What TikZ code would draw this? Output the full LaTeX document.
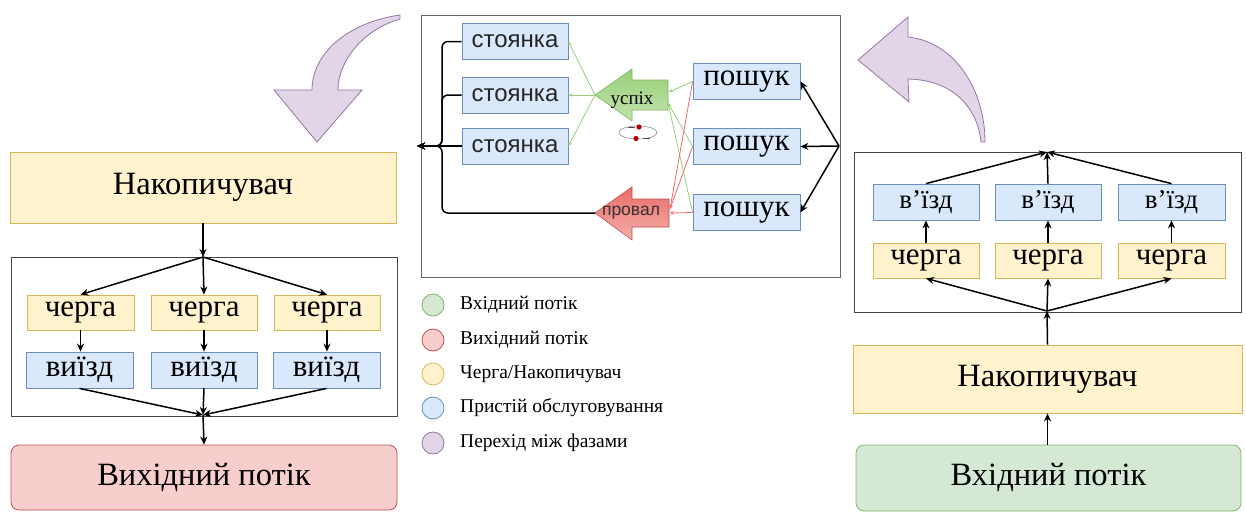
\documentclass[tikz,border=0pt]{standalone}
\usepackage{fontspec}
\setmainfont{Liberation Serif}
\newfontfamily\arialfont{Liberation Sans}
\usetikzlibrary{arrows.meta}

\definecolor{blueF}{HTML}{DAE8FC}\definecolor{blueD}{HTML}{6C8EBF}
\definecolor{yelF}{HTML}{FFF2CC}\definecolor{yelD}{HTML}{D6B656}
\definecolor{grnF}{HTML}{D5E8D4}\definecolor{grnD}{HTML}{82B366}
\definecolor{redF}{HTML}{F8CECC}\definecolor{redD}{HTML}{B85450}
\definecolor{purF}{HTML}{E1D5E7}\definecolor{purD}{HTML}{9673A6}
\definecolor{grnA}{HTML}{97D077}\definecolor{grnB}{HTML}{C3E3B0}
\definecolor{redA}{HTML}{EA6B66}\definecolor{redB}{HTML}{F5B0AD}
\definecolor{frameC}{HTML}{444444}

\newcommand{\bigtxt}{\fontsize{32.5}{35}\selectfont}
\newcommand{\cellfont}{\fontsize{31}{33}\selectfont}
\newcommand{\smallcell}{\fontsize{27}{30}\selectfont}
\newcommand{\parkfont}{\arialfont\fontsize{24}{26}\selectfont}
\newcommand{\legfont}{\fontsize{19.5}{21}\selectfont}

\begin{document}
\begin{tikzpicture}[x=1pt,y=-1pt,
  box/.style={draw, line width=0.8pt, inner sep=0pt, anchor=center},
  qbox/.style={box, fill=yelF, draw=yelD},
  sbox/.style={box, fill=blueF, draw=blueD},
  group/.style={draw=frameC, line width=1pt, inner sep=0pt},
  flow/.style={-{Stealth[length=8pt,width=7pt]}, line width=1.5pt},
  gline/.style={-{Stealth[length=4pt,width=3.5pt]}, draw=grnA, line width=0.8pt},
  rline/.style={-{Stealth[length=4pt,width=3.5pt]}, draw=redA, line width=0.8pt},
  purp/.style={fill=purF, draw=purD, line width=0.8pt},
  legdot/.style={circle, minimum size=22pt, inner sep=0pt, line width=0.8pt},
  legtxt/.style={anchor=west, font=\legfont, inner sep=0pt}]
\useasboundingbox (0,0) rectangle (1246,512);

% ---------- output phase (left) ----------
\draw[purp] (400,15) .. controls (350,22) and (312,52) .. (312,90)
  -- (274,90) -- (317,142) -- (362,90) -- (338,90)
  .. controls (338,62) and (362,30) .. (400,19) -- cycle;

\node[qbox, minimum width=386pt, minimum height=71pt, font=\bigtxt] (nakL) at (203,187.5) {Накопичувач};
\node[group, minimum width=386pt, minimum height=159pt] (grpL) at (204,336.5) {};
\coordinate (splitL) at (203,257);
\coordinate (mergeL) at (203,415);
\node[qbox, minimum width=107pt, minimum height=35pt, font=\cellfont] (chL1) at (80.5,312.5) {черга};
\node[qbox, minimum width=106pt, minimum height=35pt, font=\cellfont] (chL2) at (204,312.5) {черга};
\node[qbox, minimum width=106pt, minimum height=35pt, font=\cellfont] (chL3) at (327,312.5) {черга};
\node[sbox, minimum width=107pt, minimum height=36pt, font=\cellfont] (vyL1) at (79.5,370) {виїзд};
\node[sbox, minimum width=106pt, minimum height=36pt, font=\cellfont] (vyL2) at (204,370) {виїзд};
\node[sbox, minimum width=107pt, minimum height=36pt, font=\cellfont] (vyL3) at (326.5,370) {виїзд};
\node[box, rounded corners=8pt, fill=redF, draw=redD, minimum width=386pt, minimum height=65pt, font=\bigtxt] (outL) at (204,477.5) {Вихідний потік};

\draw[flow] (nakL.south) -- (splitL);
\foreach \i in {1,2,3} {
  \draw[flow] (splitL) -- (chL\i.north);
  \draw[flow] (chL\i.south) -- (chL\i.south |- vyL\i.north);
  \draw[flow] (vyL\i.south) -- (mergeL);
}
\draw[flow] (mergeL) -- (outL.north);

% ---------- parking phase (middle) ----------
\node[group, draw=black!60, minimum width=419pt, minimum height=262pt] (grpM) at (630.5,146) {};
\node[sbox, minimum width=106pt, minimum height=36pt, font=\parkfont, text=black!85] (st1) at (515,41.5) {стоянка};
\node[sbox, minimum width=106pt, minimum height=36pt, font=\parkfont, text=black!85] (st2) at (515,95) {стоянка};
\node[sbox, minimum width=106pt, minimum height=36pt, font=\parkfont, text=black!85] (st3) at (515,146) {стоянка};
\node[sbox, minimum width=107pt, minimum height=36pt, font=\cellfont] (p1) at (746.5,81.5) {пошук};
\node[sbox, minimum width=107pt, minimum height=36pt, font=\cellfont] (p2) at (746.5,146.5) {пошук};
\node[sbox, minimum width=107pt, minimum height=36pt, font=\cellfont] (p3) at (746.5,212.5) {пошук};

% success / failure block arrows
\draw[draw=grnD, line width=0.6pt, top color=grnA, bottom color=grnB]
  (595,95) -- (632,69) -- (632,80) -- (668,80) -- (668,110) -- (632,110) -- (632,121) -- cycle;
\node[font=\fontsize{19}{21}\selectfont, inner sep=0pt] (succ) at (632,100) {успіх};
\draw[draw=redD, line width=0.6pt, top color=redA, bottom color=redB]
  (595,213) -- (632,187) -- (632,199) -- (669,199) -- (669,227) -- (632,227) -- (632,240) -- cycle;
\node[font=\arialfont\fontsize{17.5}{19}\selectfont, text=black!80, inner sep=0pt] (fail) at (631,213) {провал};

\coordinate (succtip) at (595,95);
\coordinate (succin) at (669,92);
\coordinate (succin2) at (668,103);
\coordinate (failtip) at (595,213);
\coordinate (failin) at (670,209);
\coordinate (failtail) at (670,213);

% transition marker
\draw[black!45, line width=0.6pt] (638,132.5) ellipse [x radius=19, y radius=6.5];
\fill[red!70!black] (639,127) circle (2.6) (636,138.5) circle (2.6);
\draw[black!70, line width=0.6pt] (628,127) -- (635,127) (643,138.5) -- (650,138.5);

\foreach \s in {st1,st2,st3} \draw[gline] (succtip) -- (\s.east);
\draw[gline] (p1.west) -- (succin);
\draw[gline] (p2.west) -- (succin2);
\draw[gline] (p3.west) -- (succin2);
\draw[rline] (p1.west) -- (failin);
\draw[rline] (p2.west) -- (failin);
\draw[rline] (p3.west) -- (failtail);

\coordinate (busx) at (442,146);
\coordinate (park) at (417,146);
\coordinate (hub) at (839,146);
\draw[flow, rounded corners=6pt] (st1.west) -| (busx) -- (park);
\draw[flow, rounded corners=6pt] (st2.west) -| (busx) -- (park);
\draw[flow] (st3.west) -- (park);
\draw[flow, rounded corners=6pt] (failtip) -| (busx) -- (park);
\foreach \p in {p1,p2,p3} \draw[flow] (hub) -- (\p.east);

% legend
\node[legdot, fill=grnF, draw=grnD] (lg1) at (433,305) {};
\node[legdot, fill=redF, draw=redD] (lg2) at (433,340) {};
\node[legdot, fill=yelF, draw=yelD] (lg3) at (433,374) {};
\node[legdot, fill=blueF, draw=blueD] (lg4) at (433,408) {};
\node[legdot, fill=purF, draw=purD] (lg5) at (433,443) {};
\node[legtxt] (lt1) at (460,305) {Вхідний потік};
\node[legtxt] (lt2) at (460,340) {Вихідний потік};
\node[legtxt] (lt3) at (460,374) {Черга/Накопичувач};
\node[legtxt] (lt4) at (460,408) {Пристій обслуговування};
\node[legtxt] (lt5) at (460,443) {Перехід між фазами};

% ---------- input phase (right) ----------
\draw[purp] (858,60) -- (908,17) -- (908,37)
  .. controls (955,42) and (985,90) .. (985,142) -- (981,142)
  .. controls (978,110) and (955,80) .. (908,79) -- (909,102) -- cycle;

\node[group, minimum width=387pt, minimum height=160pt] (grpR) at (1047.5,232) {};
\coordinate (mergeR) at (1047,152);
\coordinate (splitR) at (1047,311);
\node[sbox, minimum width=106pt, minimum height=36pt, font=\smallcell] (vzR1) at (926,202) {в'їзд};
\node[sbox, minimum width=106pt, minimum height=36pt, font=\smallcell] (vzR2) at (1048,202) {в'їзд};
\node[sbox, minimum width=107pt, minimum height=36pt, font=\smallcell] (vzR3) at (1171.5,202) {в'їзд};
\node[qbox, minimum width=106pt, minimum height=35pt, font=\cellfont] (chR1) at (926,260.5) {черга};
\node[qbox, minimum width=106pt, minimum height=35pt, font=\cellfont] (chR2) at (1048,260.5) {черга};
\node[qbox, minimum width=107pt, minimum height=35pt, font=\cellfont] (chR3) at (1171.5,260.5) {черга};
\node[qbox, minimum width=389pt, minimum height=68pt, font=\bigtxt] (nakR) at (1047.5,379) {Накопичувач};
\node[box, rounded corners=8pt, fill=grnF, draw=grnD, minimum width=385pt, minimum height=66pt, font=\bigtxt] (inR) at (1048.5,478) {Вхідний потік};

\draw[flow] (inR.north -| nakR.south) -- (nakR.south);
\draw[flow] (nakR.north) -- (splitR);
\foreach \i in {1,2,3} {
  \draw[flow] (splitR) -- (chR\i.south);
  \draw[flow] (chR\i.north) -- (vzR\i.south);
  \draw[flow] (vzR\i.north) -- (mergeR);
}
\end{tikzpicture}
\end{document}
